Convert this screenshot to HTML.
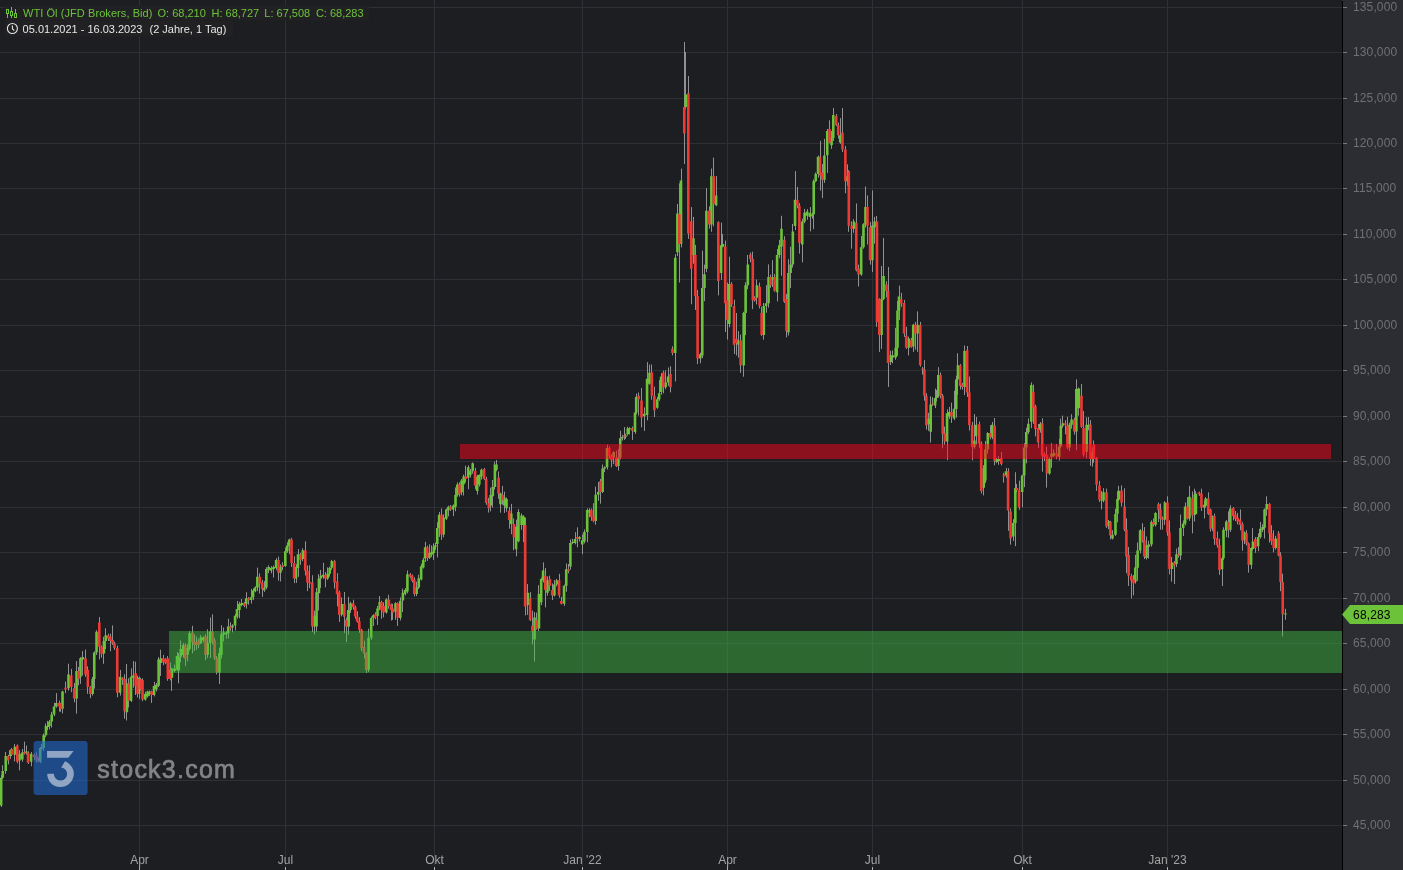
<!DOCTYPE html>
<html><head><meta charset="utf-8"><style>
html,body{margin:0;padding:0;background:#1c1e22;width:1403px;height:870px;overflow:hidden}
svg{display:block;position:absolute;left:0;top:0}
.hd{position:absolute;font-family:"Liberation Sans",sans-serif;font-size:11px;white-space:pre;line-height:13px}
.g{color:#6cc33a} .w{color:#e6e6e6}
</style></head><body>
<svg width="1403" height="870" viewBox="0 0 1403 870">
<rect x="0" y="0" width="1342" height="870" fill="#1c1e22"/>
<rect x="0" y="7" width="1342" height="1" fill="#2e3035"/>
<rect x="0" y="52" width="1342" height="1" fill="#2e3035"/>
<rect x="0" y="98" width="1342" height="1" fill="#2e3035"/>
<rect x="0" y="143" width="1342" height="1" fill="#2e3035"/>
<rect x="0" y="188" width="1342" height="1" fill="#2e3035"/>
<rect x="0" y="234" width="1342" height="1" fill="#2e3035"/>
<rect x="0" y="279" width="1342" height="1" fill="#2e3035"/>
<rect x="0" y="325" width="1342" height="1" fill="#2e3035"/>
<rect x="0" y="370" width="1342" height="1" fill="#2e3035"/>
<rect x="0" y="416" width="1342" height="1" fill="#2e3035"/>
<rect x="0" y="461" width="1342" height="1" fill="#2e3035"/>
<rect x="0" y="507" width="1342" height="1" fill="#2e3035"/>
<rect x="0" y="552" width="1342" height="1" fill="#2e3035"/>
<rect x="0" y="598" width="1342" height="1" fill="#2e3035"/>
<rect x="0" y="643" width="1342" height="1" fill="#2e3035"/>
<rect x="0" y="689" width="1342" height="1" fill="#2e3035"/>
<rect x="0" y="734" width="1342" height="1" fill="#2e3035"/>
<rect x="0" y="780" width="1342" height="1" fill="#2e3035"/>
<rect x="0" y="825" width="1342" height="1" fill="#2e3035"/>
<rect x="139" y="0" width="1" height="866" fill="#2e3035"/>
<rect x="285" y="0" width="1" height="866" fill="#2e3035"/>
<rect x="434" y="0" width="1" height="866" fill="#2e3035"/>
<rect x="582" y="0" width="1" height="866" fill="#2e3035"/>
<rect x="727" y="0" width="1" height="866" fill="#2e3035"/>
<rect x="872" y="0" width="1" height="866" fill="#2e3035"/>
<rect x="1022" y="0" width="1" height="866" fill="#2e3035"/>
<rect x="1167" y="0" width="1" height="866" fill="#2e3035"/>
<path d="M1.5 775.0V807.0M2.5 765.3V779.0M5.5 751.9V773.7M8.5 754.9V764.3M10.5 749.3V758.9M11.5 748.0V756.0M14.5 744.1V761.4M17.5 744.4V763.3M19.5 749.9V770.3M22.5 749.0V761.8M24.5 741.6V754.6M26.5 745.5V754.7M28.5 751.3V764.0M31.5 752.0V766.3M34.5 753.5V760.3M36.5 752.4V762.6M38.5 757.6V762.1M40.5 747.0V763.2M41.5 744.0V750.3M43.5 733.5V751.2M45.5 723.5V737.2M47.5 720.9V730.2M49.5 719.9V729.4M51.5 711.9V727.6M54.5 702.7V716.2M56.5 693.1V707.7M59.5 700.7V711.5M60.5 702.9V711.8M62.5 690.7V713.4M65.5 681.6V693.2M68.5 663.7V690.7M71.5 668.9V692.2M74.5 683.1V702.3M76.5 661.1V713.6M78.5 666.9V685.3M80.5 657.1V683.9M82.5 651.0V675.6M85.5 649.5V676.7M87.5 666.3V693.8M90.5 686.1V698.1M92.5 677.0V695.5M94.5 651.4V688.6M96.5 630.2V655.0M99.5 617.0V659.4M101.5 645.5V657.6M103.5 636.8V663.8M105.5 628.3V649.0M108.5 633.6V641.0M110.5 633.7V651.3M112.5 625.4V644.9M114.5 641.7V649.9M117.5 645.6V697.3M120.5 669.9V695.6M122.5 677.0V684.9M124.5 674.4V718.7M126.5 664.0V720.5M128.5 678.3V707.5M131.5 668.4V702.0M133.5 661.0V687.7M135.5 661.7V695.0M137.5 675.5V697.4M139.5 676.5V699.2M140.5 677.9V690.4M142.5 678.3V701.2M145.5 691.6V700.7M147.5 690.8V697.6M149.5 690.5V696.1M151.5 690.7V702.9M154.5 681.9V696.4M156.5 682.9V691.5M158.5 657.1V687.1M160.5 649.7V676.0M163.5 654.9V665.2M165.5 658.2V664.1M167.5 656.1V680.8M170.5 662.5V680.4M171.5 667.7V690.9M174.5 664.6V672.4M177.5 652.2V670.7M178.5 653.0V683.3M180.5 640.4V662.3M183.5 642.9V657.7M185.5 643.5V665.9M187.5 644.2V661.5M189.5 631.1V650.7M192.5 625.8V653.4M194.5 634.4V651.0M196.5 636.3V649.9M198.5 638.6V648.1M200.5 635.1V644.0M203.5 636.4V642.1M205.5 634.3V660.1M207.5 629.3V658.2M210.5 617.5V658.1M212.5 614.3V644.4M214.5 638.0V660.0M216.5 655.9V674.4M219.5 647.5V684.0M221.5 625.2V658.6M223.5 627.5V641.4M226.5 631.3V638.7M228.5 618.7V638.6M230.5 622.4V630.8M232.5 624.2V632.3M235.5 613.9V630.4M237.5 601.0V618.7M239.5 601.9V618.2M241.5 599.0V606.3M244.5 601.9V607.2M246.5 592.2V608.5M248.5 597.0V604.7M251.5 588.9V603.6M253.5 588.4V600.1M255.5 586.2V592.2M257.5 567.6V591.1M259.5 573.3V593.6M262.5 579.9V596.9M264.5 581.0V591.9M266.5 567.2V589.2M268.5 565.3V573.2M271.5 566.1V573.3M273.5 565.6V577.5M276.5 558.2V570.2M278.5 556.6V580.7M280.5 564.4V581.5M282.5 562.2V570.3M285.5 547.5V566.8M287.5 542.2V552.9M289.5 538.7V554.3M291.5 537.8V567.0M294.5 556.3V583.1M296.5 564.3V582.9M298.5 549.1V576.8M300.5 552.9V564.8M302.5 548.3V561.2M305.5 541.3V575.5M307.5 565.5V591.1M309.5 565.2V588.2M312.5 575.2V632.2M314.5 610.6V634.5M316.5 588.1V631.7M318.5 574.1V610.5M320.5 569.9V588.1M323.5 562.8V578.7M325.5 572.1V587.3M327.5 567.4V579.9M329.5 566.6V576.6M331.5 559.9V569.9M334.5 559.9V588.5M337.5 573.1V606.4M339.5 590.7V621.9M341.5 597.4V616.4M344.5 592.0V633.2M346.5 617.6V642.2M348.5 607.0V630.1M348.5 596.8V634.7M350.5 601.8V612.9M353.5 599.7V609.7M355.5 605.6V618.8M357.5 611.2V622.7M359.5 617.3V632.8M361.5 628.9V651.1M364.5 640.7V658.4M366.5 652.4V673.0M368.5 628.7V672.0M371.5 616.5V640.0M373.5 614.2V625.9M375.5 612.2V619.3M377.5 606.0V624.9M379.5 596.0V610.3M381.5 600.7V618.8M383.5 602.4V617.3M386.5 598.3V613.6M388.5 594.8V608.6M391.5 603.6V620.5M392.5 603.8V619.8M395.5 602.2V619.8M397.5 602.3V625.9M400.5 597.4V620.4M402.5 588.7V612.1M405.5 588.1V595.4M407.5 570.5V593.3M410.5 573.0V578.3M412.5 574.6V582.4M414.5 577.3V596.3M416.5 581.6V596.1M418.5 574.7V589.0M421.5 563.7V580.4M423.5 557.8V568.5M425.5 541.8V562.0M427.5 545.8V560.9M429.5 544.3V559.0M431.5 545.4V557.1M433.5 543.4V559.9M435.5 542.5V549.9M437.5 522.2V557.5M439.5 512.0V536.9M441.5 508.5V539.9M443.5 514.3V537.3M446.5 508.5V520.1M448.5 505.7V516.4M450.5 505.0V510.9M453.5 504.4V516.1M455.5 487.4V511.3M457.5 482.4V496.7M459.5 482.4V496.6M461.5 479.0V495.3M463.5 474.6V495.5M465.5 465.7V482.5M468.5 465.4V489.2M470.5 469.0V477.5M472.5 462.4V473.7M475.5 467.8V489.2M477.5 474.8V494.5M479.5 474.3V486.6M481.5 468.6V479.6M484.5 468.0V480.0M486.5 476.8V504.8M488.5 497.9V512.6M490.5 487.6V511.4M492.5 480.0V507.5M494.5 461.6V489.5M496.5 460.0V471.3M498.5 471.4V498.8M500.5 492.6V512.7M502.5 485.9V504.7M504.5 491.6V512.9M506.5 497.5V511.8M509.5 507.0V528.7M511.5 503.9V534.2M513.5 518.4V550.2M516.5 519.7V556.3M518.5 509.1V542.3M521.5 513.4V529.8M523.5 515.1V542.1M525.5 517.6V615.4M527.5 584.1V614.9M530.5 592.1V621.1M532.5 610.6V644.4M534.5 612.1V661.6M536.5 612.6V629.7M538.5 585.2V631.1M541.5 577.6V605.1M543.5 562.4V582.4M545.5 567.9V607.4M547.5 576.4V595.7M549.5 575.7V590.9M552.5 583.4V600.0M554.5 580.0V596.5M556.5 578.9V586.3M559.5 573.8V597.7M561.5 596.8V604.5M564.5 584.7V605.9M566.5 563.5V591.8M568.5 564.0V573.3M570.5 539.4V569.7M572.5 538.9V544.2M575.5 532.2V544.4M577.5 527.3V547.3M579.5 536.1V541.5M582.5 534.4V554.1M584.5 529.4V543.4M587.5 508.4V542.2M589.5 508.2V517.2M591.5 508.5V520.8M593.5 503.3V522.4M595.5 486.6V524.8M598.5 482.0V500.8M600.5 478.9V503.7M602.5 464.5V493.0M604.5 466.4V472.1M607.5 444.6V469.5M609.5 446.5V458.7M611.5 454.1V467.3M613.5 451.2V464.1M616.5 450.6V467.1M618.5 448.8V470.5M620.5 430.7V459.4M622.5 434.7V440.5M624.5 427.0V439.9M625.5 433.7V438.9M627.5 426.8V435.3M629.5 427.2V434.5M632.5 426.5V439.9M635.5 410.7V433.9M636.5 393.6V414.2M638.5 392.5V415.6M641.5 387.9V427.4M644.5 407.4V430.9M647.5 362.1V420.3M649.5 364.6V384.7M651.5 364.4V399.7M654.5 386.6V417.1M657.5 396.9V408.8M659.5 380.1V400.8M661.5 373.1V394.6M663.5 370.6V393.4M665.5 370.4V389.2M668.5 367.5V386.0M670.5 366.2V392.4M672.5 346.3V355.4M675.5 254.1V381.5M677.5 204.0V256.1M679.5 183.4V282.5M681.5 168.6V247.4M684.5 42.0V164.0M685.5 52.0V109.3M688.5 76.0V238.9M691.5 207.1V304.2M693.5 216.9V263.7M695.5 244.9V310.0M697.5 289.9V364.1M700.5 352.7V363.2M702.5 250.7V358.1M704.5 264.7V301.2M706.5 188.1V272.2M709.5 206.4V228.6M711.5 168.5V231.8M713.5 157.6V226.3M716.5 176.0V206.2M718.5 221.2V295.4M721.5 222.6V279.9M722.5 234.0V247.4M725.5 240.5V332.0M727.5 282.5V339.6M729.5 256.7V327.3M731.5 282.1V306.9M734.5 299.6V354.0M736.5 313.0V355.5M738.5 331.0V357.6M740.5 334.6V372.9M743.5 311.8V376.7M745.5 282.2V335.2M747.5 255.0V289.2M750.5 252.5V262.2M752.5 251.7V309.1M754.5 296.2V301.7M756.5 279.5V304.3M759.5 282.6V308.5M761.5 306.7V335.8M763.5 303.0V339.6M766.5 285.2V312.7M768.5 264.4V307.6M770.5 274.6V287.8M772.5 260.2V287.0M774.5 274.0V291.7M777.5 248.9V301.4M779.5 239.8V258.2M781.5 215.8V275.8M784.5 236.2V303.0M786.5 293.9V337.4M788.5 259.2V335.5M790.5 246.7V288.1M792.5 223.9V267.6M795.5 171.1V230.2M797.5 186.9V208.3M799.5 203.1V253.7M802.5 218.7V262.4M804.5 208.9V223.2M807.5 209.1V219.7M810.5 207.1V231.4M812.5 212.8V218.7M813.5 179.3V229.2M815.5 172.5V182.3M818.5 155.6V177.7M820.5 140.8V190.6M822.5 164.1V198.1M824.5 138.9V182.9M827.5 128.9V172.9M829.5 120.3V143.4M831.5 131.0V148.9M833.5 108.0V141.0M836.5 114.0V126.0M838.5 122.6V138.4M840.5 118.1V143.9M842.5 108.0V152.0M845.5 145.9V193.3M847.5 164.4V185.7M848.5 170.0V231.8M851.5 221.4V248.7M853.5 219.1V232.8M856.5 203.5V271.4M858.5 264.6V286.5M861.5 235.9V275.8M863.5 223.2V248.7M865.5 186.5V227.5M867.5 195.5V244.5M870.5 221.9V264.6M872.5 190.4V272.1M874.5 216.9V243.6M876.5 215.9V326.9M879.5 298.2V351.9M881.5 266.0V348.9M883.5 237.9V300.2M886.5 281.2V297.4M888.5 267.0V386.9M890.5 350.8V364.9M892.5 350.4V363.3M895.5 327.8V359.8M897.5 300.9V355.9M899.5 285.7V319.9M901.5 292.8V306.8M904.5 299.9V336.9M906.5 326.9V348.9M908.5 336.6V355.5M911.5 337.8V347.8M913.5 323.8V351.9M915.5 321.9V349.7M917.5 311.4V351.9M920.5 321.9V366.6M922.5 367.0V374.6M924.5 360.1V400.7M926.5 393.2V429.6M928.5 412.8V430.8M930.5 396.4V442.5M932.5 397.1V405.9M935.5 388.6V408.0M936.5 389.9V401.6M938.5 367.2V397.7M940.5 372.4V398.4M942.5 393.9V448.3M944.5 426.6V444.9M947.5 409.4V460.1M949.5 406.9V418.9M951.5 402.6V422.9M954.5 390.7V420.1M956.5 375.6V417.6M957.5 353.3V394.9M960.5 364.1V389.4M962.5 382.9V389.6M964.5 345.5V395.1M967.5 346.0V397.0M969.5 376.5V430.5M972.5 421.9V460.3M974.5 414.1V448.8M976.5 416.9V444.5M979.5 421.5V447.8M981.5 441.5V493.5M983.5 465.2V495.4M985.5 441.0V483.1M987.5 432.2V453.6M990.5 425.2V439.3M992.5 421.9V439.2M994.5 418.0V465.3M996.5 457.9V463.2M998.5 456.2V464.8M1001.5 452.0V465.4M1003.5 472.8V482.7M1006.5 467.9V477.9M1008.5 468.2V530.8M1010.5 508.5V544.6M1013.5 519.2V541.0M1015.5 472.2V546.2M1016.5 483.9V492.3M1019.5 480.7V509.8M1022.5 474.6V507.3M1024.5 443.2V487.2M1026.5 427.6V463.3M1028.5 418.5V434.1M1031.5 382.4V428.2M1033.5 384.6V423.9M1035.5 404.7V436.4M1038.5 424.0V447.9M1040.5 422.0V432.7M1042.5 418.3V471.7M1044.5 452.4V461.0M1046.5 446.7V487.6M1049.5 457.2V474.8M1051.5 443.2V467.8M1053.5 449.2V456.8M1056.5 443.9V459.3M1059.5 438.9V460.5M1060.5 418.6V448.0M1062.5 415.6V427.8M1065.5 420.2V434.3M1067.5 416.7V449.3M1069.5 422.6V451.2M1071.5 414.2V428.7M1074.5 417.8V434.6M1076.5 379.3V450.3M1078.5 387.5V415.7M1081.5 383.9V428.0M1083.5 411.0V456.7M1086.5 417.3V458.3M1088.5 417.0V430.3M1090.5 420.2V465.8M1092.5 447.3V466.6M1093.5 440.5V462.8M1096.5 457.0V490.9M1099.5 480.9V501.9M1101.5 491.0V509.4M1103.5 488.1V502.3M1106.5 488.6V527.9M1108.5 519.9V529.2M1110.5 520.8V539.4M1112.5 530.2V539.5M1115.5 508.6V535.9M1117.5 491.3V522.4M1118.5 485.8V500.8M1121.5 485.4V506.5M1124.5 488.3V531.2M1126.5 518.4V573.1M1128.5 546.9V586.0M1131.5 573.8V598.4M1133.5 575.0V595.3M1135.5 554.8V583.5M1137.5 542.4V580.9M1140.5 529.1V553.4M1142.5 523.2V542.4M1144.5 527.1V559.0M1146.5 536.5V559.5M1148.5 540.7V558.5M1151.5 520.3V546.6M1153.5 518.5V526.6M1155.5 512.2V526.5M1158.5 502.6V522.1M1160.5 503.6V529.7M1162.5 516.5V529.6M1164.5 501.2V524.9M1167.5 496.3V535.8M1169.5 520.4V574.4M1171.5 556.9V581.7M1174.5 561.0V584.0M1176.5 548.6V567.1M1178.5 547.0V557.7M1180.5 514.5V560.1M1183.5 520.5V536.1M1185.5 502.5V525.4M1187.5 497.2V519.4M1189.5 485.9V520.8M1192.5 491.5V533.3M1194.5 488.7V521.5M1195.5 491.1V514.8M1199.5 491.6V495.9M1201.5 488.7V510.9M1204.5 500.8V518.5M1205.5 497.0V507.6M1208.5 492.3V514.9M1210.5 508.6V531.6M1212.5 515.4V531.1M1214.5 513.6V544.8M1217.5 531.5V547.6M1219.5 538.7V574.8M1222.5 556.5V586.0M1223.5 527.3V559.9M1226.5 520.0V537.2M1228.5 511.3V537.8M1230.5 505.4V531.9M1233.5 507.1V520.3M1235.5 511.0V521.1M1237.5 512.9V524.4M1240.5 509.5V530.3M1242.5 522.2V550.7M1244.5 531.4V544.0M1246.5 530.1V545.5M1248.5 542.4V572.6M1251.5 547.2V569.0M1252.5 528.1V550.5M1255.5 537.1V552.8M1258.5 533.3V551.2M1260.5 521.9V538.5M1262.5 524.4V532.1M1264.5 508.4V538.5M1266.5 496.3V515.8M1269.5 503.1V542.6M1271.5 525.2V544.9M1273.5 530.3V552.3M1275.5 535.9V549.6M1278.5 531.1V556.4M1280.5 552.2V591.2M1282.5 573.6V636.4M1285.5 608.8V619.8" stroke="#919191" stroke-width="1" fill="none"/>
<path d="M-0.15 777.8h2.6v27.6h-2.6zM1.46 770.9h2.6v6.9h-2.6zM4.45 756.0h2.6v14.9h-2.6zM9.04 750.2h2.6v5.7h-2.6zM13.64 746.8h2.6v8.0h-2.6zM18.24 753.7h2.6v6.9h-2.6zM21.00 752.5h2.6v6.9h-2.6zM24.91 751.4h2.6v1.6h-2.6zM29.73 753.7h2.6v8.0h-2.6zM38.93 747.9h2.6v13.8h-2.6zM40.65 747.9h2.6v1.0h-2.6zM42.38 735.3h2.6v12.6h-2.6zM44.68 726.1h2.6v9.2h-2.6zM46.40 726.1h2.6v1.0h-2.6zM48.13 721.5h2.6v4.6h-2.6zM50.42 714.6h2.6v6.9h-2.6zM52.72 706.6h2.6v8.0h-2.6zM55.02 703.1h2.6v3.4h-2.6zM61.23 691.6h2.6v17.2h-2.6zM67.21 674.4h2.6v13.8h-2.6zM75.25 670.9h2.6v27.6h-2.6zM79.16 658.3h2.6v18.4h-2.6zM81.46 657.1h2.6v2.3h-2.6zM91.34 679.0h2.6v14.9h-2.6zM92.95 652.5h2.6v26.4h-2.6zM95.25 631.8h2.6v20.7h-2.6zM102.61 641.0h2.6v12.6h-2.6zM104.45 635.3h2.6v5.7h-2.6zM118.70 676.7h2.6v16.1h-2.6zM125.60 683.6h2.6v28.7h-2.6zM129.73 676.7h2.6v24.1h-2.6zM132.03 675.5h2.6v2.3h-2.6zM137.78 677.8h2.6v16.1h-2.6zM143.99 693.9h2.6v5.7h-2.6zM146.29 691.6h2.6v4.6h-2.6zM148.13 691.6h2.6v2.3h-2.6zM152.72 685.9h2.6v9.2h-2.6zM155.02 684.7h2.6v4.6h-2.6zM157.32 659.4h2.6v26.4h-2.6zM159.62 658.3h2.6v4.6h-2.6zM170.65 668.6h2.6v9.2h-2.6zM173.41 668.6h2.6v2.3h-2.6zM175.71 656.0h2.6v13.8h-2.6zM177.49 656.8h2.6v13.7h-2.6zM179.45 649.0h2.6v7.8h-2.6zM181.79 645.1h2.6v9.8h-2.6zM186.29 648.0h2.6v6.8h-2.6zM188.24 633.3h2.6v15.6h-2.6zM199.58 637.3h2.6v5.9h-2.6zM201.92 637.3h2.6v2.9h-2.6zM206.42 643.1h2.6v11.7h-2.6zM208.76 631.4h2.6v11.7h-2.6zM218.14 652.9h2.6v19.5h-2.6zM220.10 634.3h2.6v20.5h-2.6zM222.44 632.4h2.6v2.0h-2.6zM224.79 632.4h2.6v2.0h-2.6zM226.94 626.5h2.6v6.8h-2.6zM231.24 625.5h2.6v2.0h-2.6zM233.78 615.8h2.6v9.8h-2.6zM235.73 608.9h2.6v7.8h-2.6zM238.08 604.0h2.6v5.9h-2.6zM240.42 603.1h2.6v2.0h-2.6zM244.92 598.2h2.6v5.9h-2.6zM249.80 597.2h2.6v2.9h-2.6zM251.76 590.4h2.6v6.8h-2.6zM253.71 587.4h2.6v3.9h-2.6zM256.06 576.7h2.6v10.7h-2.6zM262.90 587.4h2.6v2.9h-2.6zM265.05 568.9h2.6v18.6h-2.6zM267.39 566.9h2.6v2.9h-2.6zM269.74 567.9h2.6v2.9h-2.6zM272.28 566.9h2.6v2.0h-2.6zM274.82 560.1h2.6v7.8h-2.6zM279.12 566.9h2.6v5.9h-2.6zM284.00 551.3h2.6v14.7h-2.6zM285.96 545.4h2.6v5.9h-2.6zM287.91 539.5h2.6v6.8h-2.6zM294.75 566.9h2.6v11.7h-2.6zM296.70 554.2h2.6v13.7h-2.6zM301.59 550.3h2.6v8.8h-2.6zM313.32 615.8h2.6v10.7h-2.6zM315.27 592.3h2.6v34.2h-2.6zM317.62 578.6h2.6v14.7h-2.6zM319.57 575.7h2.6v2.9h-2.6zM321.72 574.7h2.6v2.0h-2.6zM326.41 573.7h2.6v4.9h-2.6zM328.36 567.9h2.6v5.9h-2.6zM330.51 561.0h2.6v6.8h-2.6zM340.68 604.0h2.6v10.7h-2.6zM346.93 609.9h2.6v16.6h-2.6zM347.42 609.9h2.6v16.7h-2.6zM349.27 603.3h2.6v6.6h-2.6zM367.25 637.7h2.6v32.2h-2.6zM369.89 617.9h2.6v19.8h-2.6zM372.01 615.2h2.6v2.6h-2.6zM376.24 608.6h2.6v7.4h-2.6zM378.35 602.0h2.6v6.6h-2.6zM384.96 599.4h2.6v13.2h-2.6zM394.21 603.3h2.6v8.5h-2.6zM398.97 600.7h2.6v17.2h-2.6zM401.61 592.7h2.6v7.9h-2.6zM403.73 590.1h2.6v4.0h-2.6zM406.11 574.2h2.6v17.2h-2.6zM415.36 587.5h2.6v6.6h-2.6zM417.47 578.2h2.6v9.3h-2.6zM419.85 566.3h2.6v13.2h-2.6zM421.97 559.7h2.6v7.9h-2.6zM423.82 547.3h2.6v11.1h-2.6zM428.05 553.1h2.6v4.8h-2.6zM430.43 551.8h2.6v2.6h-2.6zM432.54 546.5h2.6v6.6h-2.6zM434.26 545.2h2.6v1.3h-2.6zM435.98 528.0h2.6v15.9h-2.6zM437.83 514.8h2.6v13.2h-2.6zM442.32 517.4h2.6v17.2h-2.6zM444.96 509.5h2.6v9.3h-2.6zM447.08 506.8h2.6v3.4h-2.6zM451.84 505.5h2.6v4.0h-2.6zM454.22 494.9h2.6v11.9h-2.6zM456.07 484.4h2.6v10.6h-2.6zM460.30 480.4h2.6v11.9h-2.6zM462.41 476.4h2.6v7.9h-2.6zM466.91 467.2h2.6v10.6h-2.6zM469.02 471.1h2.6v4.0h-2.6zM471.40 463.2h2.6v7.9h-2.6zM475.89 476.4h2.6v14.5h-2.6zM478.01 475.1h2.6v9.3h-2.6zM480.12 469.8h2.6v6.6h-2.6zM489.37 494.9h2.6v10.6h-2.6zM491.49 487.0h2.6v9.3h-2.6zM493.60 464.5h2.6v22.5h-2.6zM495.19 464.5h2.6v5.3h-2.6zM499.15 493.6h2.6v10.6h-2.6zM503.12 497.6h2.6v7.9h-2.6zM505.23 498.9h2.6v9.3h-2.6zM509.99 513.4h2.6v10.6h-2.6zM514.75 526.7h2.6v22.5h-2.6zM517.13 512.1h2.6v29.1h-2.6zM520.28 515.5h2.6v9.6h-2.6zM522.49 516.8h2.6v8.3h-2.6zM526.62 592.7h2.6v12.4h-2.6zM533.24 617.5h2.6v22.1h-2.6zM537.65 594.0h2.6v34.5h-2.6zM539.86 578.9h2.6v23.4h-2.6zM541.79 570.6h2.6v9.6h-2.6zM546.20 580.3h2.6v12.4h-2.6zM553.09 584.4h2.6v11.0h-2.6zM555.57 580.3h2.6v4.1h-2.6zM562.74 585.8h2.6v17.9h-2.6zM564.94 569.2h2.6v16.5h-2.6zM569.08 543.0h2.6v23.4h-2.6zM571.56 541.7h2.6v1.4h-2.6zM573.77 538.9h2.6v4.1h-2.6zM578.18 537.0h2.6v1.9h-2.6zM580.94 540.3h2.6v4.1h-2.6zM583.14 532.0h2.6v9.6h-2.6zM585.90 510.0h2.6v22.1h-2.6zM588.66 510.0h2.6v2.8h-2.6zM594.45 494.8h2.6v26.2h-2.6zM596.93 492.0h2.6v2.8h-2.6zM601.34 468.6h2.6v23.4h-2.6zM603.54 467.2h2.6v1.4h-2.6zM605.75 447.9h2.6v19.3h-2.6zM612.37 452.1h2.6v5.5h-2.6zM617.05 457.6h2.6v8.3h-2.6zM618.98 438.3h2.6v19.3h-2.6zM620.91 436.9h2.6v1.4h-2.6zM624.65 435.6h2.6v1.2h-2.6zM626.46 428.3h2.6v6.0h-2.6zM628.64 428.3h2.6v1.0h-2.6zM633.71 412.6h2.6v19.3h-2.6zM634.91 396.9h2.6v15.7h-2.6zM642.88 413.8h2.6v2.4h-2.6zM645.78 378.8h2.6v36.2h-2.6zM648.19 372.8h2.6v10.9h-2.6zM655.92 399.3h2.6v8.5h-2.6zM657.85 393.3h2.6v6.0h-2.6zM659.78 376.4h2.6v15.7h-2.6zM664.37 382.4h2.6v4.8h-2.6zM666.78 376.4h2.6v6.0h-2.6zM673.92 257.7h2.6v95.3h-2.6zM676.12 213.5h2.6v38.7h-2.6zM679.71 180.4h2.6v63.5h-2.6zM684.47 94.4h2.6v12.6h-2.6zM692.14 238.3h2.6v16.6h-2.6zM699.04 354.3h2.6v4.1h-2.6zM700.97 288.0h2.6v67.6h-2.6zM703.18 274.2h2.6v13.8h-2.6zM705.11 210.7h2.6v58.0h-2.6zM710.08 176.2h2.6v48.3h-2.6zM714.78 195.6h2.6v9.7h-2.6zM719.75 245.3h2.6v27.6h-2.6zM721.68 243.9h2.6v2.8h-2.6zM728.03 283.9h2.6v40.0h-2.6zM736.86 340.5h2.6v4.1h-2.6zM742.39 312.9h2.6v52.5h-2.6zM744.32 285.3h2.6v27.6h-2.6zM746.53 264.6h2.6v20.7h-2.6zM755.64 285.3h2.6v12.4h-2.6zM762.54 306.0h2.6v29.0h-2.6zM764.75 303.2h2.6v2.8h-2.6zM767.23 277.0h2.6v26.2h-2.6zM771.38 277.0h2.6v2.8h-2.6zM775.79 254.9h2.6v37.3h-2.6zM778.00 245.3h2.6v9.7h-2.6zM780.21 228.7h2.6v17.9h-2.6zM787.11 272.9h2.6v59.4h-2.6zM789.32 264.6h2.6v8.3h-2.6zM791.53 231.4h2.6v33.1h-2.6zM793.74 199.7h2.6v26.2h-2.6zM800.95 221.5h2.6v23.0h-2.6zM803.25 212.8h2.6v8.6h-2.6zM805.83 211.4h2.6v4.3h-2.6zM808.71 212.8h2.6v4.3h-2.6zM811.01 214.3h2.6v1.4h-2.6zM812.44 181.2h2.6v33.1h-2.6zM814.46 174.0h2.6v7.2h-2.6zM816.76 156.8h2.6v17.2h-2.6zM823.08 155.4h2.6v24.4h-2.6zM825.95 130.9h2.6v24.4h-2.6zM830.27 138.1h2.6v7.2h-2.6zM831.99 115.1h2.6v23.0h-2.6zM838.89 135.2h2.6v7.2h-2.6zM845.79 176.2h2.6v5.0h-2.6zM852.69 221.5h2.6v7.2h-2.6zM859.87 247.3h2.6v27.3h-2.6zM862.17 224.3h2.6v23.0h-2.6zM864.18 207.1h2.6v17.2h-2.6zM871.08 225.8h2.6v34.5h-2.6zM873.38 221.5h2.6v5.7h-2.6zM880.28 299.1h2.6v35.9h-2.6zM882.29 276.1h2.6v23.0h-2.6zM889.42 355.3h2.6v6.6h-2.6zM891.61 355.3h2.6v2.2h-2.6zM894.45 347.7h2.6v9.8h-2.6zM896.19 310.6h2.6v37.1h-2.6zM897.72 296.4h2.6v14.2h-2.6zM907.55 338.5h2.6v9.2h-2.6zM911.92 324.8h2.6v21.8h-2.6zM916.29 324.8h2.6v8.7h-2.6zM927.21 418.7h2.6v5.5h-2.6zM929.39 404.5h2.6v27.3h-2.6zM933.76 397.9h2.6v7.6h-2.6zM935.50 395.7h2.6v2.2h-2.6zM937.03 375.0h2.6v20.7h-2.6zM945.77 413.2h2.6v28.4h-2.6zM947.95 412.1h2.6v4.4h-2.6zM952.76 408.8h2.6v9.8h-2.6zM954.94 379.4h2.6v29.5h-2.6zM956.69 365.2h2.6v14.2h-2.6zM963.24 351.0h2.6v36.0h-2.6zM973.07 440.5h2.6v6.6h-2.6zM974.73 424.8h2.6v11.4h-2.6zM982.38 468.2h2.6v19.6h-2.6zM984.04 449.6h2.6v31.0h-2.6zM986.52 433.1h2.6v16.5h-2.6zM990.86 424.8h2.6v12.4h-2.6zM995.41 458.9h2.6v3.1h-2.6zM997.48 458.9h2.6v2.1h-2.6zM1004.72 471.3h2.6v4.1h-2.6zM1011.95 523.0h2.6v13.4h-2.6zM1014.02 487.9h2.6v35.2h-2.6zM1020.85 475.5h2.6v16.5h-2.6zM1022.91 447.5h2.6v27.9h-2.6zM1024.98 432.0h2.6v15.5h-2.6zM1027.05 423.8h2.6v8.3h-2.6zM1029.94 384.9h2.6v36.8h-2.6zM1038.84 423.8h2.6v6.2h-2.6zM1048.14 458.9h2.6v14.5h-2.6zM1050.21 453.7h2.6v3.1h-2.6zM1052.69 452.7h2.6v3.1h-2.6zM1057.86 446.5h2.6v10.3h-2.6zM1059.51 425.8h2.6v20.7h-2.6zM1061.58 423.3h2.6v2.5h-2.6zM1068.20 424.8h2.6v22.7h-2.6zM1070.27 419.6h2.6v5.2h-2.6zM1075.02 389.0h2.6v42.6h-2.6zM1077.50 388.6h2.6v19.6h-2.6zM1085.36 424.8h2.6v26.9h-2.6zM1087.43 424.8h2.6v2.1h-2.6zM1090.84 451.7h2.6v7.2h-2.6zM1100.42 499.7h2.6v1.0h-2.6zM1102.22 492.2h2.6v8.2h-2.6zM1107.45 521.3h2.6v4.5h-2.6zM1111.18 534.8h2.6v3.7h-2.6zM1114.17 513.9h2.6v20.9h-2.6zM1116.11 498.9h2.6v14.9h-2.6zM1117.61 490.7h2.6v9.0h-2.6zM1134.05 567.6h2.6v14.2h-2.6zM1136.29 550.5h2.6v17.2h-2.6zM1138.83 530.3h2.6v20.2h-2.6zM1145.25 545.2h2.6v12.7h-2.6zM1147.50 544.5h2.6v2.2h-2.6zM1150.19 522.1h2.6v22.4h-2.6zM1154.22 513.1h2.6v12.0h-2.6zM1163.63 502.6h2.6v17.2h-2.6zM1170.66 562.4h2.6v6.7h-2.6zM1175.14 554.2h2.6v9.7h-2.6zM1179.18 528.0h2.6v27.6h-2.6zM1181.86 523.6h2.6v4.5h-2.6zM1183.81 506.4h2.6v17.2h-2.6zM1188.14 496.7h2.6v21.7h-2.6zM1193.52 494.4h2.6v20.2h-2.6zM1194.62 493.8h2.6v20.2h-2.6zM1202.90 504.8h2.6v2.8h-2.6zM1204.37 498.4h2.6v7.4h-2.6zM1211.18 516.8h2.6v11.0h-2.6zM1220.74 558.2h2.6v11.0h-2.6zM1222.21 529.7h2.6v28.5h-2.6zM1224.97 521.4h2.6v9.2h-2.6zM1229.02 508.5h2.6v21.2h-2.6zM1243.37 532.4h2.6v7.4h-2.6zM1249.81 548.1h2.6v16.6h-2.6zM1251.65 541.6h2.6v7.4h-2.6zM1256.80 537.0h2.6v9.2h-2.6zM1259.01 528.7h2.6v8.3h-2.6zM1261.40 526.9h2.6v2.8h-2.6zM1263.24 509.4h2.6v18.4h-2.6zM1265.44 503.9h2.6v5.5h-2.6zM1274.64 538.5h2.6v9.6h-2.6zM1284.21 613.4h2.6v1.0h-2.6z" fill="#6cc33a"/>
<path d="M6.75 756.0h2.6v4.6h-2.6zM10.65 749.1h2.6v5.7h-2.6zM15.94 745.6h2.6v16.1h-2.6zM22.84 752.1h2.6v1.6h-2.6zM26.75 752.5h2.6v10.3h-2.6zM32.72 754.8h2.6v2.3h-2.6zM35.48 756.0h2.6v4.6h-2.6zM37.21 760.6h2.6v1.0h-2.6zM58.01 703.1h2.6v3.4h-2.6zM59.62 704.3h2.6v4.6h-2.6zM64.22 687.7h2.6v1.6h-2.6zM69.96 675.5h2.6v11.5h-2.6zM72.95 688.2h2.6v10.3h-2.6zM77.32 670.9h2.6v8.0h-2.6zM84.22 658.3h2.6v16.1h-2.6zM86.52 669.8h2.6v17.2h-2.6zM89.04 687.0h2.6v6.9h-2.6zM98.01 622.6h2.6v24.1h-2.6zM100.31 646.8h2.6v6.9h-2.6zM106.75 635.3h2.6v3.4h-2.6zM109.04 636.4h2.6v4.6h-2.6zM111.34 639.9h2.6v3.4h-2.6zM113.18 643.3h2.6v4.6h-2.6zM115.94 647.9h2.6v44.8h-2.6zM121.00 677.8h2.6v2.3h-2.6zM123.30 679.0h2.6v32.2h-2.6zM127.44 683.6h2.6v17.2h-2.6zM134.33 673.2h2.6v12.6h-2.6zM136.17 679.0h2.6v14.9h-2.6zM139.39 679.0h2.6v10.3h-2.6zM141.23 680.1h2.6v19.5h-2.6zM150.42 691.6h2.6v3.4h-2.6zM161.92 658.3h2.6v3.4h-2.6zM164.22 659.4h2.6v3.4h-2.6zM166.52 658.3h2.6v20.7h-2.6zM168.81 669.8h2.6v9.2h-2.6zM183.94 645.1h2.6v13.7h-2.6zM191.17 632.4h2.6v9.8h-2.6zM193.13 641.2h2.6v3.9h-2.6zM195.08 642.1h2.6v2.9h-2.6zM197.43 640.2h2.6v4.9h-2.6zM204.27 636.3h2.6v18.6h-2.6zM211.11 631.4h2.6v9.8h-2.6zM213.26 640.2h2.6v17.6h-2.6zM215.60 657.8h2.6v14.7h-2.6zM228.89 626.5h2.6v2.0h-2.6zM242.96 603.1h2.6v2.9h-2.6zM247.26 598.2h2.6v2.0h-2.6zM258.60 576.7h2.6v6.8h-2.6zM260.94 582.5h2.6v6.8h-2.6zM277.16 560.1h2.6v12.7h-2.6zM281.46 565.3h2.6v1.6h-2.6zM290.26 539.5h2.6v23.5h-2.6zM292.80 563.0h2.6v15.6h-2.6zM299.05 554.2h2.6v5.9h-2.6zM303.94 550.3h2.6v20.5h-2.6zM306.09 570.8h2.6v11.7h-2.6zM308.43 582.1h2.6v1.4h-2.6zM310.97 582.5h2.6v44.0h-2.6zM324.06 575.1h2.6v3.5h-2.6zM333.25 561.0h2.6v21.5h-2.6zM335.79 581.6h2.6v12.7h-2.6zM337.94 592.3h2.6v22.5h-2.6zM343.02 604.0h2.6v12.7h-2.6zM344.98 619.7h2.6v6.8h-2.6zM351.92 603.3h2.6v4.0h-2.6zM354.03 607.3h2.6v9.3h-2.6zM355.88 616.5h2.6v5.3h-2.6zM358.00 621.3h2.6v8.5h-2.6zM360.38 629.8h2.6v18.5h-2.6zM362.75 646.9h2.6v6.6h-2.6zM364.87 653.5h2.6v16.4h-2.6zM373.86 614.4h2.6v3.4h-2.6zM380.20 602.0h2.6v7.9h-2.6zM382.32 606.0h2.6v6.6h-2.6zM387.60 599.4h2.6v6.6h-2.6zM389.72 604.6h2.6v5.3h-2.6zM391.57 608.6h2.6v4.0h-2.6zM396.33 603.3h2.6v14.5h-2.6zM408.75 574.2h2.6v2.6h-2.6zM410.86 575.6h2.6v5.3h-2.6zM412.98 579.5h2.6v14.5h-2.6zM425.93 547.3h2.6v10.6h-2.6zM440.21 514.8h2.6v19.8h-2.6zM449.19 506.8h2.6v2.6h-2.6zM458.18 484.4h2.6v9.3h-2.6zM464.53 476.4h2.6v2.6h-2.6zM473.78 471.1h2.6v14.5h-2.6zM482.77 469.0h2.6v10.0h-2.6zM484.88 479.1h2.6v23.8h-2.6zM487.52 502.9h2.6v5.3h-2.6zM497.30 477.8h2.6v15.9h-2.6zM501.27 494.9h2.6v5.3h-2.6zM507.88 510.8h2.6v9.3h-2.6zM512.64 524.0h2.6v13.2h-2.6zM523.86 525.1h2.6v81.3h-2.6zM528.83 598.2h2.6v22.1h-2.6zM531.03 625.8h2.6v5.5h-2.6zM535.44 620.2h2.6v8.3h-2.6zM543.99 576.1h2.6v13.8h-2.6zM548.68 578.9h2.6v6.9h-2.6zM550.88 589.9h2.6v5.5h-2.6zM557.78 580.3h2.6v15.2h-2.6zM559.98 600.9h2.6v2.8h-2.6zM567.15 569.2h2.6v1.9h-2.6zM575.97 537.0h2.6v1.4h-2.6zM590.03 510.0h2.6v6.9h-2.6zM592.24 516.8h2.6v4.1h-2.6zM599.13 481.0h2.6v11.0h-2.6zM607.96 447.9h2.6v8.3h-2.6zM610.16 456.2h2.6v4.1h-2.6zM614.85 457.6h2.6v8.3h-2.6zM622.84 435.6h2.6v1.2h-2.6zM630.81 428.3h2.6v2.4h-2.6zM637.33 395.7h2.6v3.6h-2.6zM640.23 400.6h2.6v16.9h-2.6zM650.61 372.3h2.6v23.4h-2.6zM653.02 395.7h2.6v14.5h-2.6zM661.95 372.8h2.6v14.5h-2.6zM669.20 374.0h2.6v13.3h-2.6zM671.15 348.8h2.6v4.1h-2.6zM678.06 214.1h2.6v29.8h-2.6zM682.95 107.1h2.6v26.5h-2.6zM687.00 93.2h2.6v140.2h-2.6zM689.93 221.2h2.6v47.5h-2.6zM694.07 254.9h2.6v41.4h-2.6zM696.28 296.3h2.6v62.1h-2.6zM707.87 210.7h2.6v13.8h-2.6zM712.57 176.2h2.6v27.6h-2.6zM716.99 222.3h2.6v58.8h-2.6zM723.89 246.6h2.6v56.6h-2.6zM725.82 300.5h2.6v19.3h-2.6zM730.24 283.9h2.6v20.7h-2.6zM732.72 306.0h2.6v38.7h-2.6zM735.21 339.1h2.6v4.1h-2.6zM739.35 340.5h2.6v24.8h-2.6zM749.01 254.4h2.6v4.7h-2.6zM751.50 259.1h2.6v41.4h-2.6zM753.43 297.7h2.6v2.8h-2.6zM758.40 286.7h2.6v19.3h-2.6zM760.33 312.9h2.6v22.1h-2.6zM769.17 277.0h2.6v8.3h-2.6zM773.31 277.0h2.6v13.8h-2.6zM782.97 239.7h2.6v62.1h-2.6zM785.18 299.1h2.6v31.8h-2.6zM796.06 199.9h2.6v5.7h-2.6zM798.07 205.7h2.6v37.4h-2.6zM818.77 156.8h2.6v18.7h-2.6zM821.07 172.6h2.6v7.2h-2.6zM828.25 128.9h2.6v13.5h-2.6zM834.86 115.7h2.6v9.5h-2.6zM836.88 125.2h2.6v10.1h-2.6zM841.19 132.4h2.6v17.2h-2.6zM844.06 149.6h2.6v31.6h-2.6zM847.51 171.2h2.6v54.6h-2.6zM850.39 225.8h2.6v2.9h-2.6zM854.98 222.9h2.6v47.4h-2.6zM857.28 268.9h2.6v5.7h-2.6zM866.19 207.1h2.6v18.7h-2.6zM868.78 227.2h2.6v33.1h-2.6zM875.68 221.5h2.6v100.6h-2.6zM877.98 299.1h2.6v35.9h-2.6zM885.06 284.4h2.6v6.6h-2.6zM886.80 290.9h2.6v72.1h-2.6zM899.91 299.2h2.6v4.4h-2.6zM902.75 302.9h2.6v30.6h-2.6zM904.93 335.7h2.6v12.0h-2.6zM909.73 340.1h2.6v6.6h-2.6zM914.10 324.8h2.6v8.7h-2.6zM918.91 324.8h2.6v40.4h-2.6zM921.31 368.4h2.6v1.1h-2.6zM923.06 369.5h2.6v26.2h-2.6zM925.02 395.7h2.6v29.5h-2.6zM931.57 403.4h2.6v1.1h-2.6zM939.22 375.0h2.6v20.7h-2.6zM941.40 395.7h2.6v38.2h-2.6zM943.58 432.9h2.6v8.7h-2.6zM950.14 412.1h2.6v4.4h-2.6zM958.87 365.2h2.6v20.7h-2.6zM961.06 384.8h2.6v2.2h-2.6zM965.86 350.3h2.6v42.1h-2.6zM968.04 392.5h2.6v32.8h-2.6zM970.88 425.2h2.6v21.8h-2.6zM977.84 424.2h2.6v19.2h-2.6zM979.90 443.4h2.6v47.6h-2.6zM988.80 433.1h2.6v4.1h-2.6zM993.34 425.8h2.6v35.2h-2.6zM999.96 457.9h2.6v6.2h-2.6zM1002.65 474.4h2.6v2.1h-2.6zM1006.79 471.3h2.6v39.3h-2.6zM1009.27 511.6h2.6v26.9h-2.6zM1015.68 487.9h2.6v2.1h-2.6zM1017.74 489.9h2.6v17.6h-2.6zM1032.01 391.7h2.6v16.5h-2.6zM1034.08 406.2h2.6v22.7h-2.6zM1036.77 427.9h2.6v14.5h-2.6zM1040.90 423.3h2.6v32.5h-2.6zM1042.97 453.7h2.6v3.1h-2.6zM1045.66 454.8h2.6v18.6h-2.6zM1055.38 453.7h2.6v3.1h-2.6zM1064.06 423.3h2.6v1.4h-2.6zM1066.13 425.8h2.6v21.7h-2.6zM1072.96 419.6h2.6v12.0h-2.6zM1080.19 395.8h2.6v31.0h-2.6zM1082.26 427.9h2.6v26.9h-2.6zM1089.08 424.8h2.6v34.1h-2.6zM1092.60 444.4h2.6v14.5h-2.6zM1095.29 457.9h2.6v26.9h-2.6zM1098.18 485.5h2.6v14.2h-2.6zM1105.21 492.2h2.6v34.4h-2.6zM1109.09 522.1h2.6v13.4h-2.6zM1120.30 490.7h2.6v12.0h-2.6zM1123.29 506.4h2.6v23.2h-2.6zM1125.08 529.5h2.6v26.9h-2.6zM1127.32 554.9h2.6v20.9h-2.6zM1130.01 575.9h2.6v4.5h-2.6zM1132.25 579.6h2.6v3.7h-2.6zM1141.22 531.0h2.6v9.7h-2.6zM1143.01 540.0h2.6v16.4h-2.6zM1151.98 522.1h2.6v2.2h-2.6zM1157.21 504.1h2.6v6.0h-2.6zM1159.15 509.4h2.6v9.7h-2.6zM1161.39 518.3h2.6v1.5h-2.6zM1166.17 502.6h2.6v29.9h-2.6zM1168.12 532.5h2.6v36.6h-2.6zM1172.90 562.4h2.6v3.0h-2.6zM1177.08 554.2h2.6v1.5h-2.6zM1186.05 506.4h2.6v12.0h-2.6zM1191.13 498.2h2.6v17.2h-2.6zM1197.75 492.5h2.6v1.8h-2.6zM1200.14 493.8h2.6v13.8h-2.6zM1206.95 498.4h2.6v15.6h-2.6zM1209.34 509.4h2.6v19.3h-2.6zM1213.02 515.9h2.6v23.0h-2.6zM1215.78 537.9h2.6v7.4h-2.6zM1218.17 545.3h2.6v24.8h-2.6zM1227.18 521.9h2.6v7.7h-2.6zM1231.96 508.0h2.6v7.9h-2.6zM1234.17 515.0h2.6v3.7h-2.6zM1236.38 517.7h2.6v3.7h-2.6zM1238.77 519.6h2.6v5.5h-2.6zM1241.16 524.2h2.6v16.6h-2.6zM1245.21 533.3h2.6v10.1h-2.6zM1247.42 543.5h2.6v21.2h-2.6zM1254.04 538.9h2.6v9.2h-2.6zM1268.20 503.9h2.6v29.4h-2.6zM1270.04 533.3h2.6v7.4h-2.6zM1272.43 538.9h2.6v9.2h-2.6zM1277.40 533.3h2.6v22.1h-2.6zM1279.24 555.4h2.6v26.7h-2.6zM1281.45 582.1h2.6v32.2h-2.6z" fill="#ee3a35"/>
<rect x="169" y="631" width="1173" height="42" fill="rgb(66,196,69)" fill-opacity="0.45"/>
<rect x="460" y="444" width="871" height="15" fill="rgb(255,5,26)" fill-opacity="0.49"/>
<g>
<rect x="33.6" y="741.1" width="54" height="54" rx="3" fill="rgb(33,106,208)" fill-opacity="0.58"/>
<path d="M47.05 750.9H73.6L68.3 757.8H47.05Z" fill="#fff" fill-opacity="0.5"/>
<path d="M47.2 773.8A13.3 13.3 0 1 0 65.05 761.3L61.24 767.4A6.6 6.6 0 1 1 53.9 773.8Z" fill="#fff" fill-opacity="0.5"/>
</g>
<g opacity="0.45"><text x="97.3" y="778.3" font-family="Liberation Sans, sans-serif" font-size="25" fill="#fff" stroke="#fff" stroke-width="0.6" textLength="137.6" lengthAdjust="spacing">stock3.com</text></g>
<rect x="5" y="5" width="364" height="15.5" fill="#212123"/>
<rect x="5" y="20.5" width="228" height="16.3" fill="#212123"/>
<rect x="1342" y="0" width="61" height="870" fill="#2c2d32"/>
<rect x="1342" y="1" width="1" height="870" fill="#000"/>
<rect x="1343" y="7" width="4" height="1" fill="#797a7e"/>
<text x="1353" y="11" font-family="Liberation Sans, sans-serif" font-size="12" letter-spacing="0.12" fill="#6f7075">135,000</text>
<rect x="1343" y="52" width="4" height="1" fill="#797a7e"/>
<text x="1353" y="56" font-family="Liberation Sans, sans-serif" font-size="12" letter-spacing="0.12" fill="#6f7075">130,000</text>
<rect x="1343" y="98" width="4" height="1" fill="#797a7e"/>
<text x="1353" y="102" font-family="Liberation Sans, sans-serif" font-size="12" letter-spacing="0.12" fill="#6f7075">125,000</text>
<rect x="1343" y="143" width="4" height="1" fill="#797a7e"/>
<text x="1353" y="147" font-family="Liberation Sans, sans-serif" font-size="12" letter-spacing="0.12" fill="#6f7075">120,000</text>
<rect x="1343" y="188" width="4" height="1" fill="#797a7e"/>
<text x="1353" y="192" font-family="Liberation Sans, sans-serif" font-size="12" letter-spacing="0.12" fill="#6f7075">115,000</text>
<rect x="1343" y="234" width="4" height="1" fill="#797a7e"/>
<text x="1353" y="238" font-family="Liberation Sans, sans-serif" font-size="12" letter-spacing="0.12" fill="#6f7075">110,000</text>
<rect x="1343" y="279" width="4" height="1" fill="#797a7e"/>
<text x="1353" y="283" font-family="Liberation Sans, sans-serif" font-size="12" letter-spacing="0.12" fill="#6f7075">105,000</text>
<rect x="1343" y="325" width="4" height="1" fill="#797a7e"/>
<text x="1353" y="329" font-family="Liberation Sans, sans-serif" font-size="12" letter-spacing="0.12" fill="#6f7075">100,000</text>
<rect x="1343" y="370" width="4" height="1" fill="#797a7e"/>
<text x="1353" y="374" font-family="Liberation Sans, sans-serif" font-size="12" letter-spacing="0.12" fill="#6f7075">95,000</text>
<rect x="1343" y="416" width="4" height="1" fill="#797a7e"/>
<text x="1353" y="420" font-family="Liberation Sans, sans-serif" font-size="12" letter-spacing="0.12" fill="#6f7075">90,000</text>
<rect x="1343" y="461" width="4" height="1" fill="#797a7e"/>
<text x="1353" y="465" font-family="Liberation Sans, sans-serif" font-size="12" letter-spacing="0.12" fill="#6f7075">85,000</text>
<rect x="1343" y="507" width="4" height="1" fill="#797a7e"/>
<text x="1353" y="511" font-family="Liberation Sans, sans-serif" font-size="12" letter-spacing="0.12" fill="#6f7075">80,000</text>
<rect x="1343" y="552" width="4" height="1" fill="#797a7e"/>
<text x="1353" y="556" font-family="Liberation Sans, sans-serif" font-size="12" letter-spacing="0.12" fill="#6f7075">75,000</text>
<rect x="1343" y="598" width="4" height="1" fill="#797a7e"/>
<text x="1353" y="602" font-family="Liberation Sans, sans-serif" font-size="12" letter-spacing="0.12" fill="#6f7075">70,000</text>
<rect x="1343" y="643" width="4" height="1" fill="#797a7e"/>
<text x="1353" y="647" font-family="Liberation Sans, sans-serif" font-size="12" letter-spacing="0.12" fill="#6f7075">65,000</text>
<rect x="1343" y="689" width="4" height="1" fill="#797a7e"/>
<text x="1353" y="693" font-family="Liberation Sans, sans-serif" font-size="12" letter-spacing="0.12" fill="#6f7075">60,000</text>
<rect x="1343" y="734" width="4" height="1" fill="#797a7e"/>
<text x="1353" y="738" font-family="Liberation Sans, sans-serif" font-size="12" letter-spacing="0.12" fill="#6f7075">55,000</text>
<rect x="1343" y="780" width="4" height="1" fill="#797a7e"/>
<text x="1353" y="784" font-family="Liberation Sans, sans-serif" font-size="12" letter-spacing="0.12" fill="#6f7075">50,000</text>
<rect x="1343" y="825" width="4" height="1" fill="#797a7e"/>
<text x="1353" y="829" font-family="Liberation Sans, sans-serif" font-size="12" letter-spacing="0.12" fill="#6f7075">45,000</text>
<path d="M1342 614.5L1350 605H1403V624H1350Z" fill="#6cc33a"/>
<text x="1353.1" y="619" font-family="Liberation Sans, sans-serif" font-size="12" letter-spacing="0.12" fill="#000">68,283</text>
<text x="139.5" y="864" text-anchor="middle" font-family="Liberation Sans, sans-serif" font-size="12" fill="#a3a3a3">Apr</text>
<rect x="139" y="867" width="1" height="3" fill="#b0b0b0"/>
<text x="285.5" y="864" text-anchor="middle" font-family="Liberation Sans, sans-serif" font-size="12" fill="#a3a3a3">Jul</text>
<rect x="285" y="867" width="1" height="3" fill="#b0b0b0"/>
<text x="434.5" y="864" text-anchor="middle" font-family="Liberation Sans, sans-serif" font-size="12" fill="#a3a3a3">Okt</text>
<rect x="434" y="867" width="1" height="3" fill="#b0b0b0"/>
<text x="582.5" y="864" text-anchor="middle" font-family="Liberation Sans, sans-serif" font-size="12" fill="#a3a3a3">Jan '22</text>
<rect x="582" y="867" width="1" height="3" fill="#b0b0b0"/>
<text x="727.5" y="864" text-anchor="middle" font-family="Liberation Sans, sans-serif" font-size="12" fill="#a3a3a3">Apr</text>
<rect x="727" y="867" width="1" height="3" fill="#b0b0b0"/>
<text x="872.5" y="864" text-anchor="middle" font-family="Liberation Sans, sans-serif" font-size="12" fill="#a3a3a3">Jul</text>
<rect x="872" y="867" width="1" height="3" fill="#b0b0b0"/>
<text x="1022.5" y="864" text-anchor="middle" font-family="Liberation Sans, sans-serif" font-size="12" fill="#a3a3a3">Okt</text>
<rect x="1022" y="867" width="1" height="3" fill="#b0b0b0"/>
<text x="1167.5" y="864" text-anchor="middle" font-family="Liberation Sans, sans-serif" font-size="12" fill="#a3a3a3">Jan '23</text>
<rect x="1167" y="867" width="1" height="3" fill="#b0b0b0"/>
<g fill="none" stroke="#6cc33a" stroke-width="1">
<path d="M7.5 14V18M11.5 7V11M11.5 16V18M15.5 9V13"/>
<rect x="6.5" y="9.5" width="2" height="4"/>
<rect x="10.5" y="11.5" width="2" height="4"/>
<rect x="14.5" y="13.5" width="2" height="4"/>
</g>
<g fill="none" stroke="#e6e6e6" stroke-width="1.1"><circle cx="12.4" cy="28.5" r="5"/><path d="M12.4 25.5V28.8L14.3 30.5"/></g>
</svg>
<div class="hd g" style="top:7px;left:23px;letter-spacing:0.07px">WTI Öl (JFD Brokers, Bid)</div>
<div class="hd g" style="top:7px;left:157.5px">O: 68,210</div>
<div class="hd g" style="top:7px;left:211.5px">H: 68,727</div>
<div class="hd g" style="top:7px;left:264.3px">L: 67,508</div>
<div class="hd g" style="top:7px;left:315.9px">C: 68,283</div>
<div class="hd w" style="top:23px;left:22.6px">05.01.2021 - 16.03.2023</div>
<div class="hd w" style="top:23px;left:149.5px">(2 Jahre, 1 Tag)</div>
</body></html>
